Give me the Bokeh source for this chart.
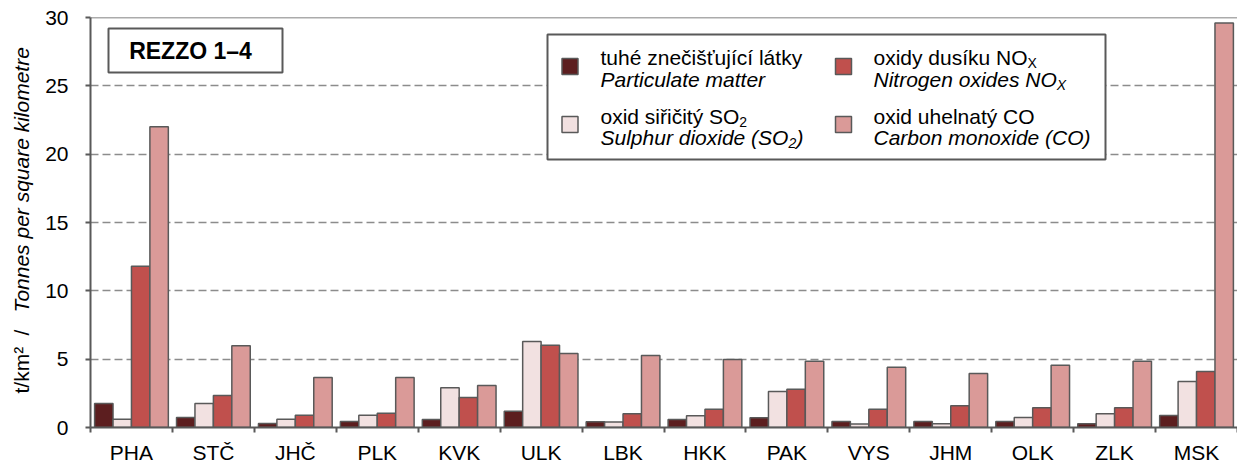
import math
from bokeh.plotting import figure
from bokeh.layouts import row
from bokeh.models import (ColumnDataSource, Range1d, FixedTicker, Label,
                          BoxAnnotation, Span)
from bokeh.transform import dodge
from bokeh.embed import file_html
from bokeh.resources import INLINE

# ---------------- data ----------------
regions = ["PHA", "STČ", "JHČ", "PLK", "KVK", "ULK", "LBK",
           "HKK", "PAK", "VYS", "JHM", "OLK", "ZLK", "MSK"]
particulate = [1.76, 0.73, 0.29, 0.44, 0.59, 1.18, 0.42, 0.59, 0.71, 0.44, 0.44, 0.44, 0.27, 0.88]
so2 = [0.61, 1.76, 0.61, 0.90, 2.90, 6.30, 0.40, 0.86, 2.63, 0.25, 0.27, 0.74, 1.00, 3.37]
nox = [11.8, 2.34, 0.90, 1.05, 2.19, 6.02, 1.01, 1.33, 2.80, 1.33, 1.60, 1.45, 1.45, 4.10]
co = [22.0, 5.98, 3.66, 3.66, 3.07, 5.41, 5.26, 4.97, 4.85, 4.40, 3.96, 4.55, 4.85, 29.6]
y_ticks = [0, 5, 10, 15, 20, 25, 30]
Y_MAX = 30

series_keys = ["pm", "so2", "nox", "co"]
series_cz = ["tuhé znečišťující látky", "oxid siřičitý SO", "oxidy dusíku NO", "oxid uhelnatý CO"]
series_en = ["Particulate matter", "Sulphur dioxide (SO", "Nitrogen oxides NO", "Carbon monoxide (CO)"]
series_sub = ["", "2", "X", ""]
series_en_tail = ["", ")", "", ""]
colors = ["#5C1E1F", "#F2E1E1", "#C0504D", "#DA9A98"]
title_box = "REZZO 1–4"
y_label_unit = "t/km²"
y_label_sep = "/"
y_label_en = "Tonnes per square kilometre"

FONT = "Liberation Sans"
EDGE = "#595959"
PAGE_W, PAGE_H = 1237, 464
SIDE_W = 40
FRAME_TOP = 17

# ---------------- main figure ----------------
FRAME_W, FRAME_H = 1147, 410
BORDER_BOTTOM = PAGE_H - FRAME_TOP - FRAME_H
p = figure(frame_width=FRAME_W, frame_height=FRAME_H,
           x_range=Range1d(-0.5, len(regions) - 0.5),
           y_range=Range1d(0, Y_MAX),
           output_backend="svg", toolbar_location=None,
           min_border_left=90 - SIDE_W, min_border_top=FRAME_TOP,
           min_border_right=0, min_border_bottom=BORDER_BOTTOM)
p.outline_line_color = None
p.background_fill_color = "white"
p.border_fill_color = "white"

src = ColumnDataSource(dict(idx=list(range(len(regions))), pm=particulate,
                            so2=so2, nox=nox, co=co))
BAR_W = 0.225
offsets = [-1.5 * BAR_W, -0.5 * BAR_W, 0.5 * BAR_W, 1.5 * BAR_W]
for key, col, off in zip(series_keys, colors, offsets):
    p.vbar(x=dodge("idx", off, range=p.x_range), top=key, bottom=0, width=BAR_W,
           source=src, fill_color=col, line_color=EDGE, line_width=1.5)

# axes
yt = FixedTicker(ticks=y_ticks)
p.yaxis.ticker = yt
p.ygrid.ticker = yt
p.ygrid.grid_line_color = "#8C8C8C"
p.ygrid.grid_line_dash = "8 4"
p.ygrid.grid_line_width = 1.5
p.xgrid.grid_line_color = None

p.yaxis.axis_line_color = EDGE
p.yaxis.axis_line_width = 2
p.yaxis.major_tick_line_color = EDGE
p.yaxis.major_tick_line_width = 2
p.yaxis.major_tick_in = 0
p.yaxis.major_tick_out = 5
p.yaxis.minor_tick_line_color = None
p.yaxis.major_label_standoff = 17
p.yaxis.major_label_text_font = FONT
p.yaxis.major_label_text_font_size = "21px"
p.yaxis.major_label_text_color = "black"

xt = FixedTicker(ticks=list(range(len(regions))),
                 minor_ticks=[i - 0.5 for i in range(len(regions) + 1)])
p.xaxis.ticker = xt
p.xaxis.major_label_overrides = {i: r for i, r in enumerate(regions)}
p.xaxis.axis_line_color = EDGE
p.xaxis.axis_line_width = 2
p.xaxis.major_tick_line_color = None
p.xaxis.major_tick_in = 0
p.xaxis.major_tick_out = 0
p.xaxis.minor_tick_line_color = EDGE
p.xaxis.minor_tick_line_width = 2
p.xaxis.minor_tick_in = 0
p.xaxis.minor_tick_out = 5
p.xaxis.major_label_standoff = 8
p.xaxis.major_label_text_font = FONT
p.xaxis.major_label_text_font_size = "21px"
p.xaxis.major_label_text_color = "black"

p.add_layout(Span(location=Y_MAX, dimension="width", line_color=EDGE, line_width=1.5))

# ---------------- annotations (screen coords relative to frame) ----------------
FX0, FY0 = 90, FRAME_TOP + FRAME_H  # page position of frame's bottom-left corner


def sx(px):
    return px - FX0


def sy(py):
    return FY0 - py


W = {" ": 278, "(": 333, ")": 333, "N": 722, "O": 778, "S": 667, "C": 722,
     "a": 556, "b": 556, "d": 556, "e": 556, "g": 556, "h": 556, "i": 222,
     "í": 278, "k": 500, "l": 222, "m": 833, "n": 556, "o": 556, "p": 556,
     "r": 333, "ř": 333, "s": 500, "t": 278, "u": 556, "x": 500, "y": 500,
     "ý": 500, "č": 500}


def text_w(s, size):
    return sum(W.get(c, 556) for c in s) * size / 1000.0


def box(l, t, r, b, fill, lw=2):
    return BoxAnnotation(left=sx(l), right=sx(r), top=sy(t), bottom=sy(b),
                         left_units="screen", right_units="screen",
                         top_units="screen", bottom_units="screen",
                         fill_color=fill, fill_alpha=1.0,
                         line_color=EDGE, line_width=lw, line_alpha=1.0)


def label(px, py, text, size=21, style="normal", align="left", angle=0.0):
    return Label(x=sx(px), y=sy(py), x_units="screen", y_units="screen",
                 text=text, text_font=FONT, text_font_size=f"{size}px",
                 text_font_style=style, text_color="black",
                 text_align=align, text_baseline="middle", angle=angle)


# REZZO box
p.add_layout(box(108, 28, 282, 72, "white"))
p.add_layout(label(190, 50, title_box, size=23, style="bold", align="center"))

# legend
p.add_layout(box(547, 34, 1105, 159, "white"))
col_sw_x = [569.5, 843]
col_tx_x = [600, 873]
row_sw_y = [66, 124]
row_l1_y = [57, 116]
row_l2_y = [79, 137]
for k in range(4):
    c, r = k // 2, k % 2
    cx, cy = col_sw_x[c], row_sw_y[r]
    p.add_layout(box(cx - 8, cy - 8, cx + 8, cy + 8, colors[k], lw=1.5))
    tx = col_tx_x[c]
    p.add_layout(label(tx, row_l1_y[r], series_cz[k]))
    p.add_layout(label(tx, row_l2_y[r], series_en[k], style="italic"))
    if series_sub[k]:
        w1 = text_w(series_cz[k], 21)
        p.add_layout(label(tx + w1, row_l1_y[r] + 5, series_sub[k], size=14))
        w2 = text_w(series_en[k], 21)
        p.add_layout(label(tx + w2, row_l2_y[r] + 5, series_sub[k], size=14, style="italic"))
        if series_en_tail[k]:
            ws = 8 if series_sub[k] == "2" else 9
            p.add_layout(label(tx + w2 + ws, row_l2_y[r], series_en_tail[k], style="italic"))

# ---------------- side panel holding the rotated y-axis title ----------------
# its frame has the same vertical extent as the main frame; data y = page y
side = figure(frame_width=SIDE_W, frame_height=FRAME_H,
              x_range=Range1d(0, SIDE_W),
              y_range=Range1d(FY0, FRAME_TOP), output_backend="svg",
              toolbar_location=None, min_border_left=0, min_border_right=0,
              min_border_top=FRAME_TOP, min_border_bottom=BORDER_BOTTOM)
side.axis.visible = False
side.grid.visible = False
side.outline_line_color = None
side.background_fill_color = "white"
side.border_fill_color = "white"


def side_label(px, py, text, style="normal"):
    return Label(x=px, y=py, text=text, text_font=FONT,
                 text_font_size="21px", text_font_style=style,
                 text_color="black", text_align="left",
                 text_baseline="middle", angle=math.pi / 2)


side.add_layout(side_label(21, 393, y_label_unit))
side.add_layout(side_label(21, 335, y_label_sep))
side.add_layout(side_label(21, 312, y_label_en, style="italic"))

layout = row(side, p)
open("out.html", "w").write(file_html(layout, INLINE))
